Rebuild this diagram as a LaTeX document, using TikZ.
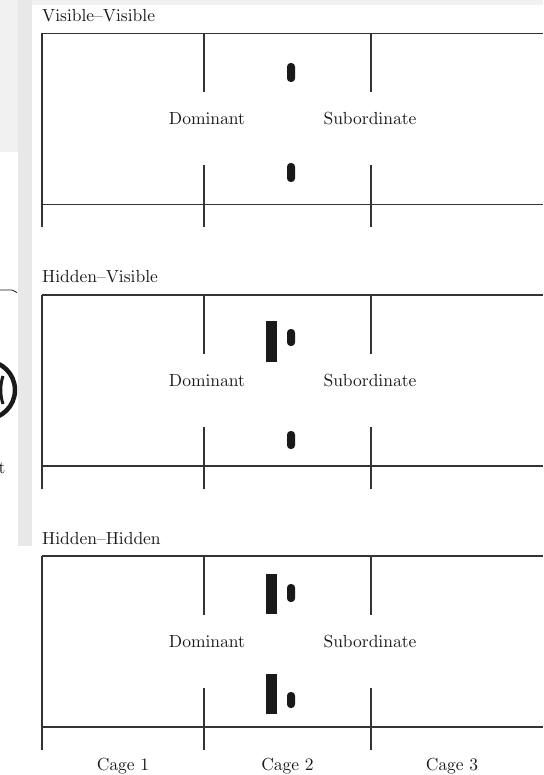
\documentclass[tikz,border=0pt]{standalone}
\definecolor{linegray}{HTML}{333333}
\definecolor{textblack}{HTML}{1A1A1A}
\definecolor{bgA}{HTML}{F0F0F0}
\definecolor{bgB}{HTML}{E8E8E8}
\font\figfont=cmr10 at 17.5pt
\newcommand\cagepanel[3]{%
  \node[lbl,anchor=base west] (#3title) at (42,#1-12) {#2};
  \draw[frame] (42,#1) -- (543,#1);
  \draw[frame] (42,#1) -- (42,#1+194);
  \draw[frame] (42,#1+171) -- (543,#1+171);
  \foreach \xx in {204,371}{%
    \draw[frame] (\xx,#1) -- (\xx,#1+58.5);
    \draw[frame] (\xx,#1+131.5) -- (\xx,#1+194);
  }
  \node[lbl,anchor=base] (#3dom) at (207,#1+91.5) {Dominant};
  \node[lbl,anchor=base] (#3sub) at (370,#1+91.5) {Subordinate};
}
\newcommand\pelletat[2]{\fill[pellet] (287,#1) rectangle (295,#2);}
\newcommand\blockat[2]{\fill[block] (266,#1) rectangle (277,#2);}
\begin{document}
\begin{tikzpicture}[x=1pt,y=-1pt,
  frame/.style={draw=linegray,line width=1.4pt},
  lbl/.style={inner sep=0pt,font=\figfont,text=textblack},
  pellet/.style={fill=black!90,rounded corners=3.6pt},
  block/.style={fill=black!90}]
\clip (0,0) rectangle (543,775);
\fill[white] (0,0) rectangle (543,775);
% background remnants of the page
\fill[bgA] (0,0) rectangle (543,5);
\fill[bgA] (0,0) rectangle (18,152);
\fill[bgB] (18,0) rectangle (32,546);
% cropped neighbouring figure
\draw[line width=0.8pt,textblack] (0,290) -- (12,290) -- (17,292.5);
\draw[line width=4.5pt,textblack] (-14,390) circle (29);
\draw[line width=3pt,textblack] (3,376) .. controls (0,385) and (0,395) .. (3,404);
\node[lbl,anchor=base west] (tfrag) at (-1.5,473) {t};
% panels
\cagepanel{33.5}{Visible--Visible}{pa}
\cagepanel{295}{Hidden--Visible}{pb}
\cagepanel{556}{Hidden--Hidden}{pc}
% panel 1 contents
\pelletat{63}{82}
\pelletat{163}{182}
% panel 2 contents
\blockat{321}{362}
\pelletat{329}{346}
\pelletat{431}{449}
% panel 3 contents
\blockat{574}{614}
\pelletat{584}{602}
\blockat{674}{714}
\pelletat{692}{708}
% cage labels
\node[lbl,anchor=base] (cage1) at (123,770) {Cage 1};
\node[lbl,anchor=base] (cage2) at (287.5,770) {Cage 2};
\node[lbl,anchor=base] (cage3) at (452,770) {Cage 3};
\end{tikzpicture}
\end{document}
